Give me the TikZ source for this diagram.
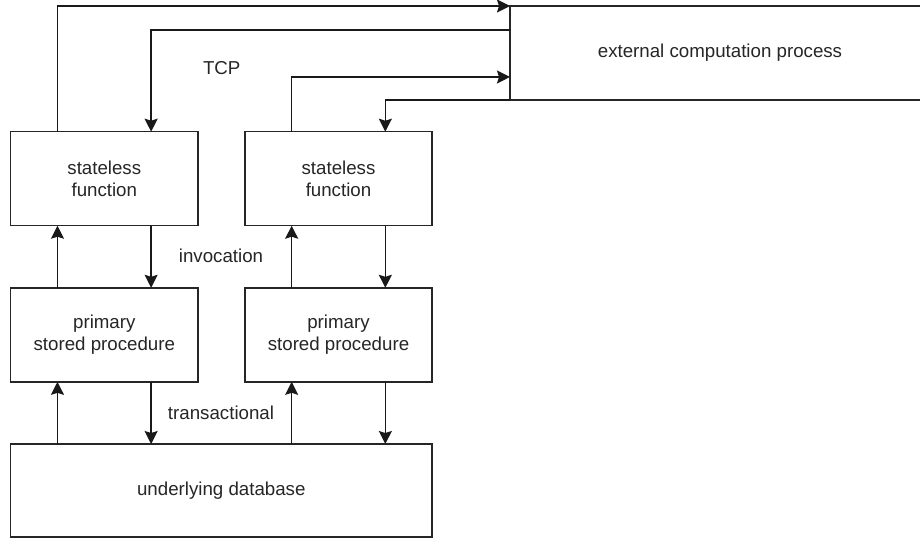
\documentclass[tikz,border=0pt]{standalone}
\usepackage{fontspec}
\setmainfont{Liberation Sans}
\usetikzlibrary{arrows.meta,calc}
\begin{document}
\begin{tikzpicture}[x=1pt,y=-1pt,
  txt/.style={font=\fontsize{18.7}{22.5}\selectfont,text=black!85},
  box/.style={txt,draw=black!85,line width=1.5pt,minimum height=94pt,inner sep=0pt,outer sep=0pt,align=center},
  arr/.style={draw=black!90,line width=1.5pt,-{Stealth[length=13pt,width=13pt,inset=2pt]}},
  lbl/.style={txt,inner sep=0pt}]
\clip (0,0) rectangle (920,539);
\fill[white] (0,0) rectangle (920,539);
% boxes
\node[box,minimum width=420pt] (ext) at (720,53) {external computation process};
\node[box,minimum width=187.3pt] (sf1) at (104.3,178.7) {stateless\\function};
\node[box,minimum width=187.3pt] (sf2) at (338.5,178.7) {stateless\\function};
\node[box,minimum width=187.3pt] (psp1) at (104.3,334.8) {primary\\stored procedure};
\node[box,minimum width=187.3pt] (psp2) at (338.5,334.8) {primary\\stored procedure};
\node[box,minimum width=421.3pt,minimum height=93pt] (db) at (221.3,490.5) {underlying database};
% labels
\node[lbl] (tcp) at (221.7,68) {TCP};
\node[lbl] (inv) at (221,256) {invocation};
\node[lbl] (trn) at (221,412.7) {transactional};
% helper points
\coordinate (e1) at ($(ext.north west)!0.255!(ext.south west)$);
\coordinate (e2) at ($(ext.north west)!0.755!(ext.south west)$);
\foreach \n in {sf1,sf2,psp1,psp2} {
  \coordinate (\n tA) at ($(\n.north west)!0.25!(\n.north east)$);
  \coordinate (\n tB) at ($(\n.north west)!0.75!(\n.north east)$);
  \coordinate (\n bA) at ($(\n.south west)!0.25!(\n.south east)$);
  \coordinate (\n bB) at ($(\n.south west)!0.75!(\n.south east)$);
}
% TCP connectors
\draw[arr] (sf1tA) |- (ext.north west);
\draw[arr] (e1) -| (sf1tB);
\draw[arr] (sf2tA) |- (e2);
\draw[arr] (ext.south west) -| (sf2tB);
% invocation
\draw[arr] (psp1tA) -- (sf1bA);
\draw[arr] (sf1bB) -- (psp1tB);
\draw[arr] (psp2tA) -- (sf2bA);
\draw[arr] (sf2bB) -- (psp2tB);
% transactional
\draw[arr] (db.north -| psp1bA) -- (psp1bA);
\draw[arr] (psp1bB) -- (db.north -| psp1bB);
\draw[arr] (db.north -| psp2bA) -- (psp2bA);
\draw[arr] (psp2bB) -- (db.north -| psp2bB);
\end{tikzpicture}
\end{document}
